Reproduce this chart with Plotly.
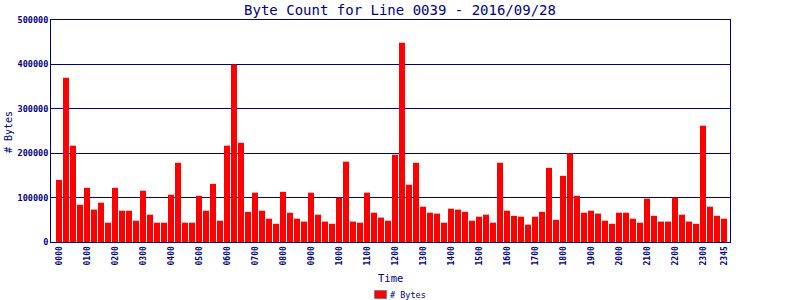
import plotly.graph_objects as go

# 15-minute time slots, 0000 .. 2345
times = [f"{h:02d}{m:02d}" for h in range(24) for m in (0, 15, 30, 45)]

byte_counts = [
    140000, 370000, 217000, 84000, 122000, 73000, 88500, 43500,
    122000, 70500, 70500, 48000, 115500, 61500, 43500, 43500,
    106500, 178500, 43500, 43500, 104000, 70500, 131000, 48000,
    217000, 400000, 223500, 68000, 111000, 70500, 52500, 41000,
    113000, 66000, 52500, 46000, 111000, 61500, 46000, 41000,
    100000, 181000, 46000, 43500, 111000, 66000, 55000, 48000,
    196500, 449000, 129000, 178500, 79500, 66000, 64000, 43500,
    75000, 73000, 68000, 48000, 57000, 61500, 43500, 178500,
    70500, 59000, 57000, 39000, 57000, 68000, 167000, 50000,
    149000, 200000, 104000, 66000, 70500, 64000, 48000, 41000,
    66000, 66000, 52500, 43500, 97500, 59000, 46000, 46000,
    100000, 61500, 46000, 41000, 262000, 79500, 59000, 52500,
]

tick_labels = [f"{h:02d}00" for h in range(24)] + ["2345"]

title_text = "Byte Count for Line 0039 - 2016/09/28"
series_name = "# Bytes"

NAVY = "#000080"
MONO = "DejaVu Sans Mono"

W, H = 800, 300
L, R, T, B = 51, 70, 20, 58
PW, PH = W - L - R, H - T - B


def px_x(px):
    return (px - L) / PW


def px_y(py):
    return (H - B - py) / PH


fig = go.Figure()
fig.add_trace(go.Bar(
    x=times,
    y=byte_counts,
    name=series_name,
    marker=dict(color="#FF0000", line=dict(width=0)),
    showlegend=False,
))

fig.update_layout(
    width=W,
    height=H,
    margin=dict(l=L, r=R, t=T, b=B, autoexpand=False),
    paper_bgcolor="white",
    plot_bgcolor="white",
    bargap=1 / 7,
    title=dict(
        text=title_text,
        x=0.5, xanchor="center",
        y=1 - 10 / H, yanchor="middle",
        font=dict(family=MONO, size=14, color=NAVY),
    ),
    font=dict(family=MONO, color=NAVY),
    xaxis=dict(
        type="category",
        range=[-1.14, 95.86],
        tickmode="array",
        tickvals=tick_labels,
        ticktext=tick_labels,
        tickangle=-90,
        tickfont=dict(family=MONO, size=8, color=NAVY, weight="bold"),
        ticks="",
        showgrid=False,
        showline=True,
        linecolor=NAVY,
        linewidth=1,
        mirror=True,
        automargin=False,
    ),
    yaxis=dict(
        range=[0, 500000],
        dtick=100000,
        tickformat="d",
        tickfont=dict(family=MONO, size=8.5, color=NAVY, weight="bold"),
        ticks="",
        showgrid=True,
        gridcolor=NAVY,
        gridwidth=1,
        zeroline=False,
        showline=True,
        linecolor=NAVY,
        linewidth=1,
        mirror=True,
        automargin=False,
    ),
    showlegend=False,
    annotations=[
        dict(text="Time", xref="paper", yref="paper",
             x=px_x(390), y=px_y(278), xanchor="center", yanchor="middle",
             showarrow=False, font=dict(family=MONO, size=10.5, color=NAVY)),
        dict(text=series_name, xref="paper", yref="paper",
             x=px_x(8), y=px_y(132), xanchor="center", yanchor="middle",
             textangle=-90, showarrow=False,
             font=dict(family=MONO, size=10, color=NAVY)),
        dict(text=series_name, xref="paper", yref="paper",
             x=px_x(388), y=px_y(295), xanchor="left", yanchor="middle",
             showarrow=False, font=dict(family=MONO, size=8.5, color=NAVY)),
    ],
    shapes=[
        dict(type="rect", xref="paper", yref="paper",
             x0=px_x(374.5), x1=px_x(386.5), y0=px_y(290.5), y1=px_y(298.5),
             fillcolor="#FF0000", line=dict(color="#808080", width=1)),
    ],
)

fig.write_html("out.html")
